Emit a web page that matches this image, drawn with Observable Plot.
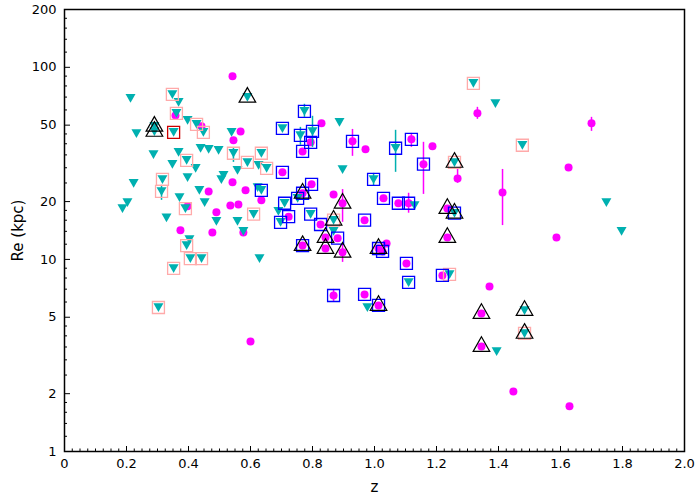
<!DOCTYPE html>
<html><head><meta charset="utf-8">
<script src="https://cdn.jsdelivr.net/npm/d3@7"></script>
<script src="https://cdn.jsdelivr.net/npm/@observablehq/plot@0.6"></script>
<style>body{margin:0;background:#fff}</style>
</head><body><div id="chart"></div>
<script>
// [z, Re (kpc)]
const tealPoints = [[0.213,69.0],[0.348,72.3],[0.368,65.7],[0.361,57.6],[0.397,53.0],[0.290,49.3],[0.290,46.4],[0.352,45.9],[0.232,45.3],[0.426,50.5],[0.448,45.9],[0.287,35.2],[0.368,36.1],[0.439,37.9],[0.465,37.4],[0.497,37.0],[0.394,32.8],[0.348,31.3],[0.423,29.8],[0.397,26.7],[0.316,26.1],[0.313,22.6],[0.223,24.9],[0.435,22.9],[0.371,21.0],[0.203,19.8],[0.187,18.4],[0.390,18.4],[0.329,16.5],[0.452,19.8],[0.490,15.8],[0.558,15.8],[0.610,17.2],[0.403,12.7],[0.394,11.8],[0.577,14.0],[0.406,10.1],[0.442,10.1],[0.629,10.1],[0.352,8.98],[0.303,5.62],[0.590,69.8],[0.539,45.9],[0.545,35.7],[0.590,32.0],[0.635,35.7],[0.626,30.9],[0.652,29.8],[0.558,29.1],[0.513,27.4],[0.506,26.1],[0.623,23.7],[0.635,22.9],[0.703,48.1],[0.774,59.0],[0.761,44.2],[0.800,46.4],[0.887,51.7],[0.897,29.4],[0.997,26.1],[1.068,37.9],[0.710,19.6],[0.752,20.8],[0.697,15.6],[0.690,17.8],[0.794,17.2],[0.868,16.0],[0.868,14.0],[0.977,5.62],[1.129,19.1],[1.110,7.59],[1.242,8.35],[1.258,17.4],[1.258,32.0],[1.319,82.5],[1.390,64.9],[1.477,39.3],[1.394,3.32],[1.484,5.42],[1.484,4.12],[1.748,19.8],[1.797,14.0]];
const magentaPoints = [[0.542,89.8],[0.358,56.2],[0.442,49.3],[0.568,46.4],[0.545,41.7],[0.465,22.6],[0.584,22.9],[0.542,25.2],[0.635,20.3],[0.397,18.9],[0.490,17.6],[0.535,19.1],[0.561,19.3],[0.374,14.2],[0.477,13.8],[0.577,13.8],[0.600,3.74],[0.703,28.4],[0.794,40.7],[0.768,36.5],[0.829,51.1],[0.929,41.2],[0.971,37.4],[1.119,42.2],[1.187,38.8],[1.158,31.3],[1.268,26.4],[0.797,24.6],[0.768,22.1],[0.868,21.8],[0.897,19.6],[1.029,20.8],[1.077,19.6],[1.110,19.6],[1.235,18.4],[0.723,16.7],[0.826,15.2],[0.968,16.0],[0.881,12.9],[0.842,13.0],[0.842,11.4],[0.897,10.9],[0.768,11.8],[1.013,11.4],[1.039,12.1],[1.026,11.0],[1.235,13.0],[1.103,9.53],[1.219,8.25],[0.868,6.49],[0.968,6.57],[1.013,5.76],[1.345,5.23],[1.345,3.52],[1.371,7.23],[1.413,22.3],[1.332,57.6],[1.700,51.1],[1.626,30.1],[1.587,13.0],[1.448,2.05],[1.629,1.72]];
const pinkBoxes = [[0.348,72.3],[0.361,57.6],[0.426,50.5],[0.448,45.9],[0.394,32.8],[0.316,26.1],[0.313,22.6],[0.390,18.4],[0.610,17.2],[0.394,11.8],[0.406,10.1],[0.442,10.1],[0.352,8.98],[0.303,5.62],[0.545,35.7],[0.590,32.0],[0.635,35.7],[0.652,29.8],[0.868,16.0],[1.242,8.35],[1.258,32.0],[1.319,82.5],[1.477,39.3],[1.484,4.12]];
const blueBoxes = [[0.635,22.9],[0.703,48.1],[0.774,59.0],[0.761,44.2],[0.800,46.4],[0.997,26.1],[1.068,37.9],[0.710,19.6],[0.752,20.8],[0.697,15.6],[0.794,17.2],[1.110,7.59],[1.258,17.4],[0.703,28.4],[0.794,40.7],[0.768,36.5],[0.929,41.2],[1.119,42.2],[1.158,31.3],[0.797,24.6],[0.768,22.1],[1.029,20.8],[1.077,19.6],[1.110,19.6],[0.723,16.7],[0.826,15.2],[0.968,16.0],[0.881,12.9],[0.768,11.8],[1.013,11.4],[1.026,11.0],[1.103,9.53],[1.219,8.25],[0.868,6.49],[0.968,6.57],[1.013,5.76]];
const redBoxes = [[0.352,45.9]];
const blackTriangles = [[0.290,49.3],[0.290,46.4],[0.590,69.8],[0.868,16.0],[1.258,17.4],[1.258,32.0],[1.484,5.42],[1.484,4.12],[0.768,22.1],[0.897,19.6],[1.235,18.4],[0.842,13.0],[0.842,11.4],[0.897,10.9],[0.768,11.8],[1.013,11.4],[1.235,13.0],[1.013,5.76],[1.345,5.23],[1.345,3.52]];
// [z, low, high]
const tealErrors = [[0.774,54.9,64.2],[0.761,39.3,48.7],[0.800,38.3,55.6],[0.997,24.0,28.05],[1.068,28.4,47.0],[0.545,32.0,37.9],[0.313,20.3,24.3]];
const magentaErrors = [[0.929,34.4,47.5],[1.119,38.3,45.3],[1.158,21.8,40.7],[1.268,24.9,29.8],[0.897,15.6,23.1],[1.110,17.4,22.1],[0.897,9.65,12.0],[0.868,6.04,6.98],[1.413,15.0,29.4],[1.332,53.6,61.9],[1.700,46.4,54.9]];

const xTicks = [0,0.2,0.4,0.6,0.8,1.0,1.2,1.4,1.6,1.8,2.0];
const xMinorTicks = d3.range(0, 2.0001, 0.025);
const yTicks = [1,2,5,10,20,50,100,200];
const yMinorTicks = [1.2,1.4,1.6,1.8,2.5,3,3.5,4,4.5,6,7,8,9,12,14,16,18,25,30,35,40,45,60,70,80,90,120,140,160,180];

const invTri = {draw(ctx, size){const r=Math.sqrt(size/Math.PI); ctx.moveTo(-r,-0.85*r); ctx.lineTo(r,-0.85*r); ctx.lineTo(0,0.9*r); ctx.closePath();}};
const sq = {draw(ctx, size){const r=Math.sqrt(size/Math.PI); ctx.rect(-r,-r,2*r,2*r);}};
const upTri = {draw(ctx, size){const r=Math.sqrt(size/Math.PI); const h=1.76*r; ctx.moveTo(0,-2*h/3); ctx.lineTo(r,h/3); ctx.lineTo(-r,h/3); ctx.closePath();}};

const TEAL = "#00b0b0", MAG = "#ff00ff";
const X = d => d[0], Y = d => d[1];

const chart = Plot.plot({
  width: 700, height: 500,
  marginLeft: 64, marginRight: 16, marginTop: 9, marginBottom: 49,
  style: {fontFamily: "DejaVu Sans", fontSize: "13px", background: "white", color: "black"},
  x: {domain: [0, 2]},
  y: {type: "log", domain: [1, 200]},
  marks: [
    Plot.ruleX(magentaErrors, {x: X, y1: d => d[1], y2: d => d[2], stroke: MAG, strokeWidth: 1.5}),
    Plot.dot(magentaPoints, {x: X, y: Y, r: 4, fill: MAG}),
    Plot.ruleX(tealErrors, {x: X, y1: d => d[1], y2: d => d[2], stroke: TEAL, strokeWidth: 1.5}),
    Plot.dot(tealPoints, {x: X, y: Y, r: 5, symbol: invTri, fill: TEAL}),
    Plot.dot(pinkBoxes, {x: X, y: Y, r: 6, symbol: sq, stroke: "#ffaaaa", strokeWidth: 1.3, fill: "none"}),
    Plot.dot(blueBoxes, {x: X, y: Y, r: 6, symbol: sq, stroke: "#0000ff", strokeWidth: 1.3, fill: "none"}),
    Plot.dot(redBoxes, {x: X, y: Y, r: 6, symbol: sq, stroke: "#cc0000", strokeWidth: 1.3, fill: "none"}),
    Plot.dot(blackTriangles, {x: X, y: Y, r: 8.3, symbol: upTri, stroke: "black", strokeWidth: 1.2, fill: "none"}),
    Plot.frame({stroke: "black", strokeWidth: 1.5}),
    Plot.axisX({ticks: xMinorTicks, tickSize: -2.5, tickFormat: () => "", label: null}),
    Plot.axisX({ticks: xTicks, tickSize: -5, tickFormat: () => "", label: null}),
    Plot.axisX({ticks: xTicks, tickSize: 0, tickPadding: 7, tickFormat: d => d === 0 ? "0" : d.toFixed(1), label: null}),
    Plot.axisY({ticks: yMinorTicks, tickSize: -3, tickFormat: () => "", label: null}),
    Plot.axisY({ticks: yTicks, tickSize: -6, tickFormat: () => "", label: null}),
    Plot.axisY({ticks: yTicks, tickSize: 0, tickPadding: 8, tickFormat: d => String(d), label: null}),
    Plot.text(["z"], {text: d => d, frameAnchor: "bottom", dy: 36, lineAnchor: "middle", fontSize: 15}),
    Plot.text(["Re (kpc)"], {text: d => d, frameAnchor: "left", dx: -46, rotate: -90, textAnchor: "middle", lineAnchor: "middle", fontSize: 15})
  ]
});
document.getElementById("chart").append(chart);
</script>
</body></html>
